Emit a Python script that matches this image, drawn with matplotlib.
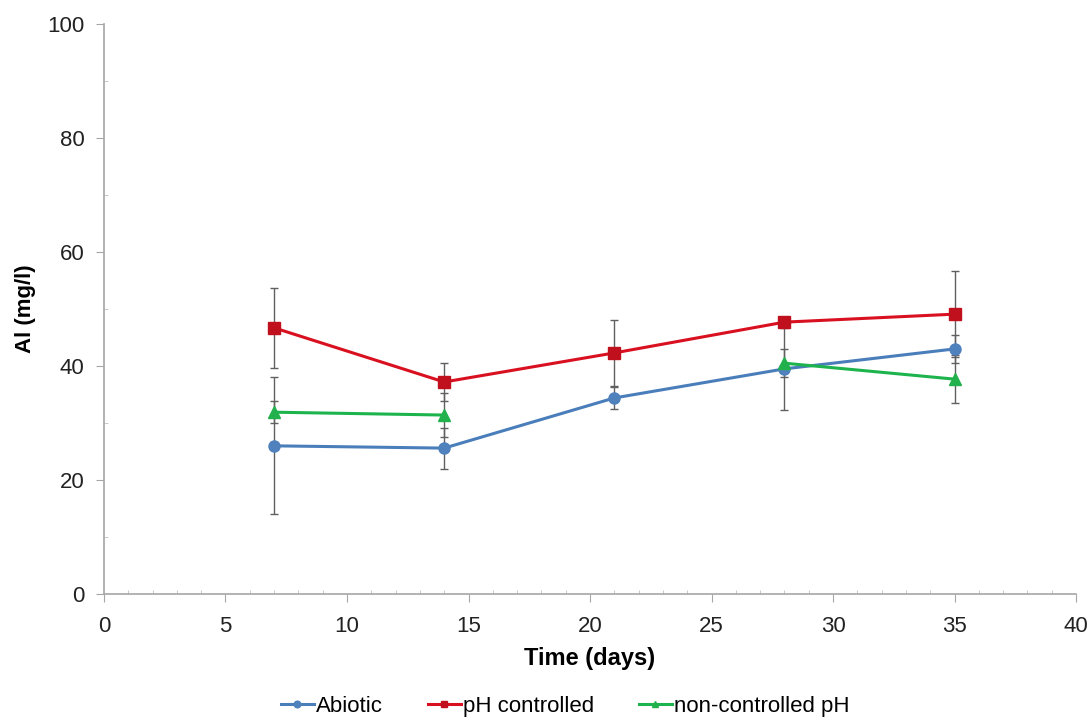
import numpy as np
import matplotlib
matplotlib.use("Agg")
import matplotlib.pyplot as plt
from matplotlib.ticker import MultipleLocator

plt.rcParams['font.family'] = ['Liberation Sans', 'DejaVu Sans']

days = [7, 14, 21, 28, 35]
abiotic = [26.0, 25.6, 34.4, 39.5, 43.0]
abiotic_err = [12.0, 3.6, 1.9, 7.2, 2.5]
ph_controlled = [46.7, 37.2, 42.3, 47.7, 49.1]
ph_controlled_err = [7.0, 3.3, 5.8, 0.8, 7.5]
non_controlled = [31.9, 31.4, np.nan, 40.5, 37.7]
non_controlled_err = [1.9, 3.9, np.nan, 2.5, 4.2]

series = [
    ("Abiotic", abiotic, abiotic_err, "#4A7EBB", "#4F81BD", "o"),
    ("pH controlled", ph_controlled, ph_controlled_err, "#D91020", "#C0101E", "s"),
    ("non-controlled pH", non_controlled, non_controlled_err, "#1DB44E", "#22B14C", "^"),
]

fig = plt.figure(figsize=(10.91, 7.17), dpi=100)
ax = fig.add_axes([0.0953, 0.1715, 0.891, 0.795])

handles = []
for name, vals, errs, lc, mc, mk in series:
    ax.errorbar(days, vals, yerr=errs, fmt='none', ecolor='#606060',
                elinewidth=1.0, capsize=3, capthick=1.0, zorder=2)
    h, = ax.plot(days, vals, color=lc, lw=2.2, marker=mk, markersize=8,
                 markerfacecolor=mc, markeredgecolor=mc, zorder=3, label=name)
    handles.append(h)

ax.set_xlim(0, 40)
ax.set_ylim(0, 100)
ax.xaxis.set_major_locator(MultipleLocator(5))
ax.xaxis.set_minor_locator(MultipleLocator(1))
ax.yaxis.set_major_locator(MultipleLocator(20))
ax.yaxis.set_minor_locator(MultipleLocator(10))

for s in ['top', 'right']:
    ax.spines[s].set_visible(False)
for s in ['left', 'bottom']:
    ax.spines[s].set_color('#A6A6A6')
    ax.spines[s].set_linewidth(1.2)

ax.tick_params(axis='both', which='major', direction='out', length=6,
               color='#A6A6A6', labelsize=16, labelcolor='#222222')
ax.tick_params(axis='y', which='major', pad=8)
ax.tick_params(axis='x', which='major', pad=10)
ax.tick_params(axis='both', which='minor', direction='in', length=3,
               color='#C0C0C0')

ax.set_xlabel("Time (days)", fontsize=17, fontweight='bold', labelpad=7)
ax.set_ylabel("Al (mg/l)", fontsize=16, fontweight='bold', labelpad=8)

fig.legend(handles=handles, loc='lower center', ncol=3, frameon=False,
           fontsize=16, bbox_to_anchor=(0.518, -0.028), handlelength=1.5,
           handletextpad=0.1, columnspacing=2.0, markerscale=0.6)

fig.savefig("out.png", dpi=100)
